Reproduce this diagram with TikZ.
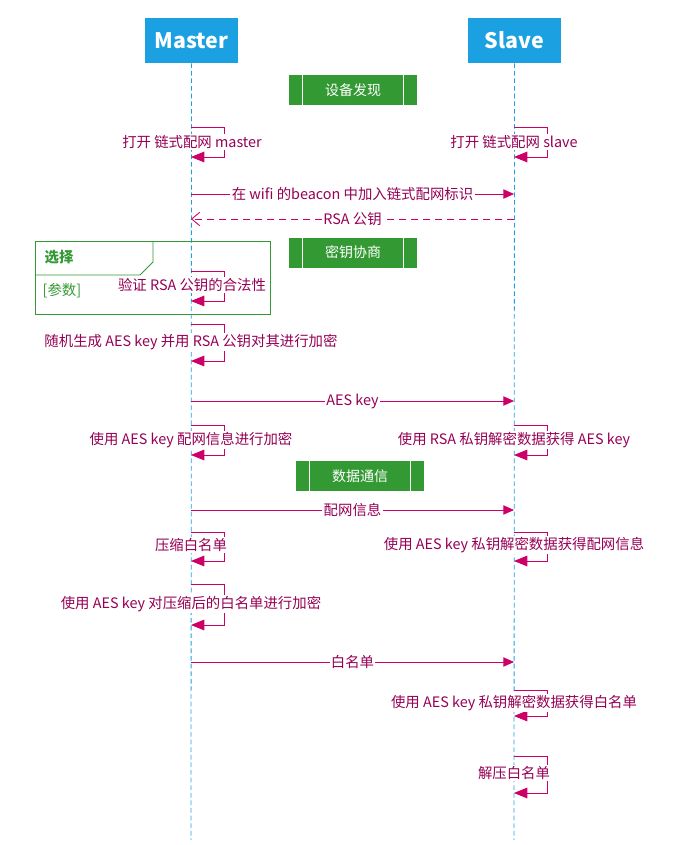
\documentclass[tikz,border=0pt]{standalone}
\usepackage{fontspec}
\setmainfont{Noto Sans CJK SC}
\usepackage{xcolor}
\usetikzlibrary{arrows.meta,positioning,calc}

\definecolor{headblue}{RGB}{27,161,226}
\definecolor{grpgreen}{RGB}{51,153,51}
\definecolor{msgline}{RGB}{204,0,102}
\definecolor{msgtext}{RGB}{150,0,85}

\begin{document}
\begin{tikzpicture}[
  x=0.75pt,y=-0.75pt,
  head/.style={fill=headblue,text=white,font=\fontsize{16}{19}\selectfont\bfseries,
    minimum width=93*0.75pt,minimum height=45*0.75pt,inner sep=0pt},
  life/.style={draw=headblue,line width=0.6pt,dash pattern=on 3.5pt off 2.2pt},
  phase/.style={fill=grpgreen,text=white,font=\fontsize{10.5}{12}\selectfont,
    minimum width=128*0.75pt,minimum height=30*0.75pt,inner sep=0pt},
  msg/.style={draw=msgline,line width=0.65pt,-{Triangle[length=8pt,width=7pt]}},
  reply/.style={draw=msgline,line width=0.65pt,dash pattern=on 5.5pt off 3.5pt,-{Straight Barb[length=6pt,width=10pt]}},
  selfloop/.style={draw=msgline,line width=0.65pt,-{Triangle[length=10pt,width=8pt]}},
  lbl/.style={fill=white,text=msgtext,font=\fontsize{10.8}{12}\selectfont,inner sep=1pt}
]
\useasboundingbox (0,0) rectangle (686,845);

% participants
\node[head] (master) at (191.5,40.5) {Master};
\node[head] (slave) at (514.5,40.5) {Slave};
\coordinate (mEnd) at (191,840);
\coordinate (sEnd) at (514,840);
\draw[life] (master.south) -- (mEnd);
\draw[life] (slave.south) -- (sEnd);

% phases
\node[phase] (discover) at (353,90) {设备发现};
\node[phase] (keyneg) at (353,252.5) {密钥协商};
\node[phase] (datacom) at (360,476) {数据通信};
\foreach \p in {discover,keyneg,datacom}{
  \draw[white,thick] ([xshift=14*0.75pt]\p.north west) -- ([xshift=14*0.75pt]\p.south west);
  \draw[white,thick] ([xshift=-14*0.75pt]\p.north east) -- ([xshift=-14*0.75pt]\p.south east);
}

% alt frame
\node[draw=grpgreen,line width=0.6pt,minimum width=235*0.75pt,minimum height=73*0.75pt,inner sep=0pt] (altbox) at (152.5,277.5) {};
\draw[grpgreen,line width=0.6pt] (35,275) -- (140,275) -- (153,262) -- (153,241);
\node[text=grpgreen,font=\fontsize{10.8}{12}\selectfont\bfseries,anchor=west] (alttitle) at (40,257) {选择};
\node[text=grpgreen,font=\fontsize{10.8}{12}\selectfont,anchor=west] (altcond) at (38,291) {[参数]};

% lifeline points
\coordinate (m1a) at (191,127); \coordinate (m1b) at (191,157);
\coordinate (s1a) at (514,127); \coordinate (s1b) at (514,157);
\coordinate (m2) at (191,194); \coordinate (s2) at (514,194);
\coordinate (m3) at (191,219); \coordinate (s3) at (514,219);
\coordinate (m4a) at (191,271); \coordinate (m4b) at (191,301);
\coordinate (m5a) at (191,324); \coordinate (m5b) at (191,361);
\coordinate (m6) at (191,401); \coordinate (s6) at (514,401);
\coordinate (m7a) at (191,425); \coordinate (m7b) at (191,455);
\coordinate (s7a) at (514,425); \coordinate (s7b) at (514,455);
\coordinate (m8) at (191,510); \coordinate (s8) at (514,510);
\coordinate (m9a) at (191,532); \coordinate (m9b) at (191,561);
\coordinate (s9a) at (514,532); \coordinate (s9b) at (514,561);
\coordinate (m10a) at (191,584); \coordinate (m10b) at (191,625);
\coordinate (m11) at (191,662); \coordinate (s11) at (514,662);
\coordinate (s12a) at (514,690); \coordinate (s12b) at (514,716);
\coordinate (s13a) at (514,756); \coordinate (s13b) at (514,793);

% self calls
\draw[selfloop] (m1a) -- ++(33,0) |- (m1b);
\draw[selfloop] (s1a) -- ++(33,0) |- (s1b);
\draw[selfloop] (m4a) -- ++(33,0) |- (m4b);
\draw[selfloop] (m5a) -- ++(33,0) |- (m5b);
\draw[selfloop] (m7a) -- ++(33,0) |- (m7b);
\draw[selfloop] (s7a) -- ++(33,0) |- (s7b);
\draw[selfloop] (m9a) -- ++(33,0) |- (m9b);
\draw[selfloop] (s9a) -- ++(33,0) |- (s9b);
\draw[selfloop] (m10a) -- ++(33,0) |- (m10b);
\draw[selfloop] (s12a) -- ++(33,0) |- (s12b);
\draw[selfloop] (s13a) -- ++(33,0) |- (s13b);
\node[lbl] (l1) at (192,142) {打开 链式配网 master};
\node[lbl] (l2) at (514,142) {打开 链式配网 slave};
\node[lbl] (l4) at (192,285) {验证 RSA 公钥的合法性};
\node[lbl] (l5) at (191,342) {随机生成 AES key 并用 RSA 公钥对其进行加密};
\node[lbl] (l7) at (191,440) {使用 AES key 配网信息进行加密};
\node[lbl] (l7s) at (514,440) {使用 RSA 私钥解密数据获得 AES key};
\node[lbl] (l9) at (191,545) {压缩白名单};
\node[lbl] (l9s) at (514,545) {使用 AES key 私钥解密数据获得配网信息};
\node[lbl] (l10) at (191,604) {使用 AES key 对压缩后的白名单进行加密};
\node[lbl] (l12) at (514,703) {使用 AES key 私钥解密数据获得白名单};
\node[lbl] (l13) at (514,773) {解压白名单};

% messages
\draw[msg] (m2) -- node[lbl] {在 wifi 的beacon 中加入链式配网标识} (s2);
\draw[reply] (s3) -- node[lbl] {RSA 公钥} (m3);
\draw[msg] (m6) -- node[lbl] {AES key} (s6);
\draw[msg] (m8) -- node[lbl] {配网信息} (s8);
\draw[msg] (m11) -- node[lbl] {白名单} (s11);
\end{tikzpicture}
\end{document}
